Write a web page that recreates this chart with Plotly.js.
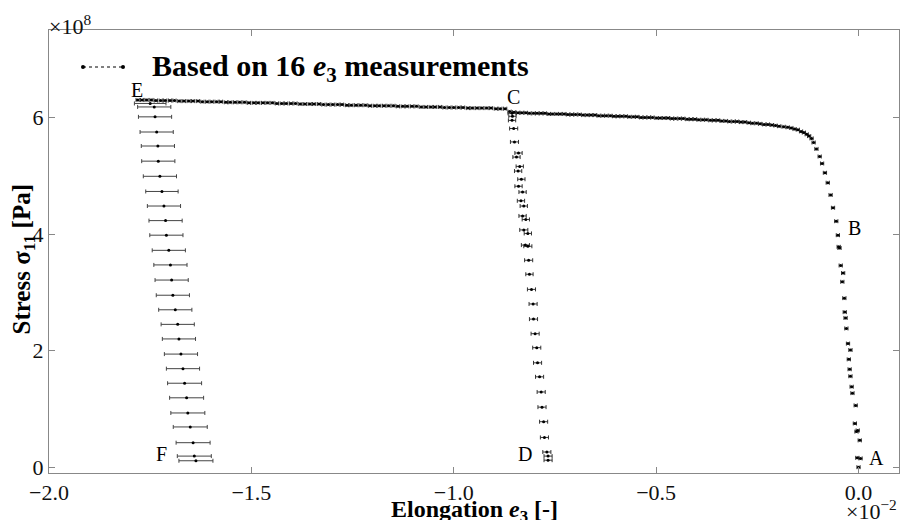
<!DOCTYPE html>
<html>
<head>
<meta charset="utf-8">
<script src="https://cdn.plot.ly/plotly-3.0.1.min.js"></script>
<style>html,body{margin:0;padding:0;background:#fff;}#chart{width:900px;height:520px;}</style>
</head>
<body>
<div id="chart"></div>
<script>
// Units: elongation in 1e-2, stress in 1e8 Pa
// Loading path A -> B -> knee -> C (right plateau)
const loadAC_x = [0.000, 0.005, -0.003, 0.003, -0.005, -0.002, -0.009, -0.007, -0.015, -0.017,
  -0.020, -0.022, -0.024, -0.020, -0.026, -0.030, -0.032, -0.034, -0.035, -0.040,
  -0.038, -0.044, -0.047, -0.049, -0.051, -0.055, -0.063, -0.069, -0.076, -0.083,
  -0.090, -0.096, -0.104, -0.111, -0.116, -0.122, -0.128, -0.135, -0.142, -0.150,
  -0.158, -0.166, -0.175, -0.185, -0.196, -0.205, -0.214, -0.224, -0.233, -0.243,
  -0.252, -0.262, -0.271, -0.281, -0.290, -0.300, -0.309, -0.319, -0.328, -0.338,
  -0.347, -0.357, -0.366, -0.376, -0.385, -0.395, -0.404, -0.414, -0.423, -0.433,
  -0.442, -0.452, -0.461, -0.471, -0.480, -0.490, -0.499, -0.509, -0.518, -0.528,
  -0.537, -0.547, -0.556, -0.566, -0.575, -0.585, -0.594, -0.604, -0.613, -0.623,
  -0.632, -0.642, -0.651, -0.661, -0.670, -0.680, -0.689, -0.699, -0.708, -0.718,
  -0.727, -0.737, -0.746, -0.756, -0.765, -0.775, -0.784, -0.794, -0.803, -0.813,
  -0.822, -0.832, -0.841, -0.851];
const loadAC_y = [0.00, 0.15, 0.16, 0.46, 0.61, 0.63, 0.75, 1.06, 1.27, 1.38,
  1.56, 1.68, 1.85, 2.01, 2.12, 2.38, 2.56, 2.66, 2.90, 3.18,
  3.33, 3.46, 3.76, 3.78, 3.98, 4.22, 4.45, 4.67, 4.88, 5.05,
  5.21, 5.33, 5.46, 5.57, 5.64, 5.68, 5.71, 5.74, 5.76, 5.79,
  5.80, 5.82, 5.83, 5.84, 5.85, 5.86, 5.87, 5.88, 5.88, 5.89,
  5.90, 5.90, 5.91, 5.92, 5.92, 5.93, 5.93, 5.93, 5.94, 5.94,
  5.95, 5.95, 5.95, 5.96, 5.96, 5.96, 5.97, 5.97, 5.97, 5.98,
  5.98, 5.98, 5.98, 5.99, 5.99, 5.99, 5.99, 6.00, 6.00, 6.00,
  6.00, 6.01, 6.01, 6.01, 6.02, 6.02, 6.02, 6.02, 6.03, 6.03,
  6.03, 6.03, 6.04, 6.04, 6.04, 6.04, 6.05, 6.05, 6.05, 6.05,
  6.06, 6.06, 6.06, 6.06, 6.06, 6.07, 6.07, 6.07, 6.07, 6.07,
  6.08, 6.08, 6.08, 6.09];
// Reloading path C -> E (left plateau)
const loadCE_x = [-0.862, -0.873, -0.885, -0.896, -0.908, -0.919, -0.931, -0.942, -0.954, -0.965,
  -0.977, -0.988, -1.000, -1.011, -1.023, -1.034, -1.046, -1.057, -1.069, -1.080,
  -1.092, -1.103, -1.115, -1.126, -1.138, -1.149, -1.161, -1.172, -1.184, -1.195,
  -1.207, -1.218, -1.230, -1.241, -1.253, -1.264, -1.276, -1.287, -1.299, -1.310,
  -1.322, -1.333, -1.345, -1.356, -1.368, -1.379, -1.391, -1.402, -1.414, -1.425,
  -1.437, -1.448, -1.460, -1.471, -1.483, -1.494, -1.506, -1.517, -1.529, -1.540,
  -1.552, -1.563, -1.575, -1.586, -1.598, -1.609, -1.621, -1.632, -1.644, -1.655,
  -1.667, -1.678, -1.690, -1.701, -1.713, -1.724, -1.736, -1.747, -1.759, -1.770,
  -1.781];
const loadCE_y = [6.10, 6.15, 6.15, 6.15, 6.16, 6.16, 6.16, 6.16, 6.16, 6.16,
  6.17, 6.17, 6.17, 6.17, 6.17, 6.18, 6.18, 6.18, 6.18, 6.18,
  6.19, 6.19, 6.19, 6.19, 6.19, 6.20, 6.20, 6.20, 6.20, 6.20,
  6.20, 6.21, 6.21, 6.21, 6.21, 6.21, 6.22, 6.22, 6.22, 6.22,
  6.22, 6.23, 6.23, 6.23, 6.23, 6.23, 6.24, 6.24, 6.24, 6.24,
  6.24, 6.25, 6.25, 6.25, 6.25, 6.25, 6.25, 6.26, 6.26, 6.26,
  6.26, 6.26, 6.27, 6.27, 6.27, 6.27, 6.27, 6.28, 6.28, 6.28,
  6.28, 6.28, 6.29, 6.29, 6.29, 6.29, 6.29, 6.30, 6.30, 6.30,
  6.30];
// Unloading path C -> D
const unloadCD_x = [-0.856, -0.855, -0.856, -0.852, -0.850, -0.840, -0.845, -0.837, -0.841, -0.833,
  -0.840, -0.830, -0.834, -0.827, -0.830, -0.822, -0.827, -0.817, -0.823, -0.817,
  -0.815, -0.813, -0.808, -0.804, -0.803, -0.799, -0.795, -0.793, -0.788, -0.784,
  -0.782, -0.778, -0.776, -0.770, -0.767, -0.767];
const unloadCD_y = [6.07, 6.02, 5.95, 5.81, 5.58, 5.39, 5.32, 5.16, 5.08, 4.94,
  4.82, 4.72, 4.57, 4.48, 4.31, 4.25, 4.07, 4.01, 3.81, 3.79,
  3.55, 3.31, 3.05, 2.80, 2.54, 2.29, 2.05, 1.79, 1.55, 1.29,
  1.03, 0.78, 0.51, 0.26, 0.19, 0.12];
const unloadCD_err = [0.010, 0.009, 0.009, 0.010, 0.010, 0.009, 0.009, 0.009, 0.009, 0.009,
  0.009, 0.009, 0.009, 0.009, 0.009, 0.009, 0.010, 0.009, 0.010, 0.010,
  0.010, 0.009, 0.010, 0.010, 0.010, 0.010, 0.010, 0.010, 0.010, 0.010,
  0.010, 0.010, 0.010, 0.010, 0.010, 0.010];
// Unloading path E -> F
const unloadEF_x = [-1.750, -1.740, -1.738, -1.734, -1.731, -1.730, -1.726, -1.721, -1.716, -1.712,
  -1.710, -1.704, -1.700, -1.697, -1.694, -1.688, -1.682, -1.679, -1.674, -1.669,
  -1.665, -1.660, -1.657, -1.651, -1.644, -1.641, -1.637];
const unloadEF_y = [6.24, 6.18, 6.01, 5.75, 5.51, 5.25, 4.99, 4.73, 4.48, 4.23,
  3.98, 3.72, 3.47, 3.21, 2.95, 2.70, 2.45, 2.20, 1.94, 1.69,
  1.44, 1.19, 0.93, 0.69, 0.42, 0.19, 0.11];
const unloadEF_err = [0.039, 0.041, 0.041, 0.041, 0.041, 0.041, 0.041, 0.040, 0.041, 0.041,
  0.041, 0.041, 0.041, 0.041, 0.041, 0.041, 0.041, 0.041, 0.041, 0.041,
  0.042, 0.042, 0.042, 0.042, 0.042, 0.042, 0.042];
const xTicks = [-2.0, -1.5, -1.0, -0.5, 0.0];
const yTicks = [0, 2, 4, 6];
const pointLabels = ['A', 'B', 'C', 'D', 'E', 'F'];
const labelX = [0.045, -0.010, -0.853, -0.823, -1.782, -1.721];
const labelY = [0.15, 4.10, 6.35, 0.22, 6.47, 0.22];
const legendText = 'Based on 16 <i>e</i><sub>3</sub> measurements';
const xTitle = 'Elongation <i>e</i><sub>3</sub> [-]';
const yTitle = 'Stress σ<sub>11</sub> [Pa]';

const FONT = 'Liberation Serif, Times New Roman, serif';
const mk = {color: '#000', size: 3, symbol: 'circle'};
const errSmall = {type: 'constant', value: 0.004, color: '#333', thickness: 1, width: 2};

const traces = [
  {x: loadAC_x, y: loadAC_y, type: 'scatter', mode: 'markers', marker: mk,
   error_x: errSmall, showlegend: false},
  {x: loadCE_x, y: loadCE_y, type: 'scatter', mode: 'markers', marker: mk,
   error_x: errSmall, showlegend: false},
  {x: unloadCD_x, y: unloadCD_y, type: 'scatter', mode: 'markers', marker: mk,
   error_x: {type: 'data', array: unloadCD_err, color: '#333', thickness: 1, width: 2},
   showlegend: false},
  {x: unloadEF_x, y: unloadEF_y, type: 'scatter', mode: 'markers', marker: mk,
   error_x: {type: 'data', array: unloadEF_err, color: '#444', thickness: 1, width: 2},
   showlegend: false}
];

const annotations = pointLabels.map((t, i) => ({
  x: labelX[i], y: labelY[i], xref: 'x', yref: 'y', text: t, showarrow: false,
  font: {family: FONT, size: 20, color: '#000'}, xanchor: 'center', yanchor: 'middle'
}));
annotations.push({xref: 'paper', yref: 'paper', x: 0, y: 1, xanchor: 'left', yanchor: 'bottom',
  text: '×10<sup>8</sup>', showarrow: false, xshift: -2, yshift: -11,
  font: {family: FONT, size: 22, color: '#111'}});
annotations.push({xref: 'paper', yref: 'paper', x: 1, y: 0, xanchor: 'right', yanchor: 'top',
  text: '×10<sup>−2</sup>', showarrow: false, xshift: 0, yshift: -21,
  font: {family: FONT, size: 22, color: '#111'}});
annotations.push({xref: 'paper', yref: 'paper', x: (150 - 49) / 850, y: (473 - 68) / 443,
  xanchor: 'left', yanchor: 'middle', text: '<b>' + legendText + '</b>', showarrow: false,
  font: {family: FONT, size: 30, color: '#000'}});
// axis titles placed as annotations for exact position
annotations.push({xref: 'paper', yref: 'paper', x: 0.5, y: 0, xanchor: 'center', yanchor: 'top',
  yshift: -21, text: '<b>' + xTitle + '</b>', showarrow: false,
  font: {family: FONT, size: 24, color: '#000'}});
annotations.push({xref: 'paper', yref: 'paper', x: 0, y: 0.5, xanchor: 'center', yanchor: 'middle',
  xshift: -26, yshift: -8, textangle: -90, text: '<b>' + yTitle + '</b>', showarrow: false,
  font: {family: FONT, size: 25, color: '#000'}});

const lx0 = (83 - 49) / 850, lx1 = (123 - 49) / 850, ly = (473 - 67) / 443;
const shapes = [
  {type: 'line', xref: 'paper', yref: 'paper', x0: lx0, x1: lx1, y0: ly, y1: ly,
   line: {color: '#000', width: 1, dash: 'dot'}},
  {type: 'circle', xref: 'paper', yref: 'paper', xsizemode: 'pixel', ysizemode: 'pixel',
   xanchor: lx0, yanchor: ly, x0: -2, x1: 2, y0: -2, y1: 2, fillcolor: '#000', line: {width: 0}},
  {type: 'circle', xref: 'paper', yref: 'paper', xsizemode: 'pixel', ysizemode: 'pixel',
   xanchor: lx1, yanchor: ly, x0: -2, x1: 2, y0: -2, y1: 2, fillcolor: '#000', line: {width: 0}}
];

const axisCommon = {
  ticks: 'inside', ticklen: 6, tickcolor: '#888', tickwidth: 1,
  showline: true, linecolor: '#888', linewidth: 1, mirror: 'ticks',
  showgrid: false, zeroline: false,
  tickfont: {family: FONT, size: 22, color: '#111'}
};

const layout = {
  width: 900, height: 520,
  margin: {l: 49, r: 1, t: 30, b: 47},
  paper_bgcolor: '#fff', plot_bgcolor: '#fff',
  showlegend: false,
  xaxis: Object.assign({}, axisCommon, {
    range: [-2.0, 0.1], tickvals: xTicks, tickformat: '.1f'
  }),
  yaxis: Object.assign({}, axisCommon, {
    range: [-0.1, 7.5], tickvals: yTicks, tickformat: 'd'
  }),
  annotations: annotations,
  shapes: shapes
};

Plotly.newPlot('chart', traces, layout, {displayModeBar: false, staticPlot: true});
</script>
</body>
</html>
